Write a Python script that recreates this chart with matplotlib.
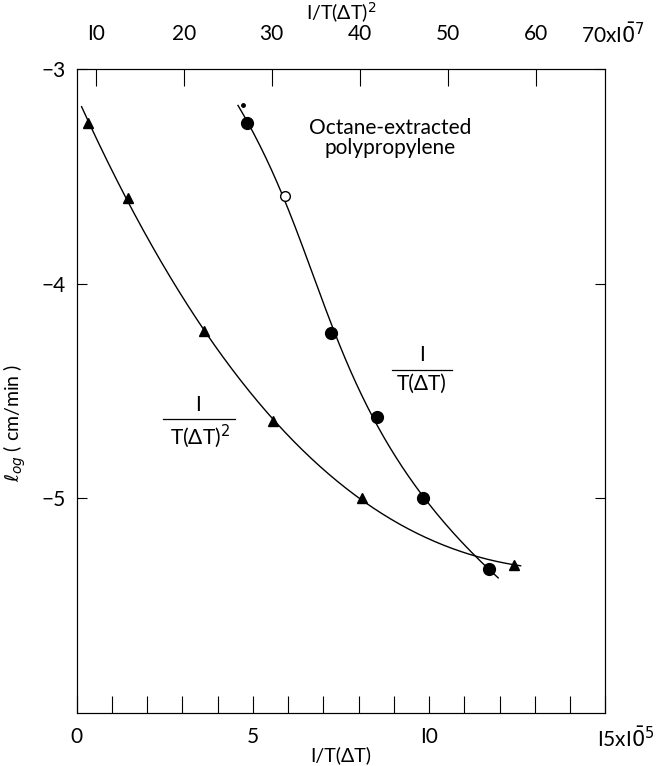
import numpy as np
import matplotlib.pyplot as plt

plt.rcParams['font.family'] = ['Lato', 'DejaVu Sans']

# growth rate vs 1/T(dT): circles, bottom axis (x 1e-5)
inv_t_dt = [4.83, 5.91, 7.2, 8.52, 9.82, 11.7]
log_rate_c = [-3.25, -3.59, -4.23, -4.62, -5.0, -5.33]
open_idx = [1]

# growth rate vs 1/T(dT)^2: triangles, top axis (x 1e-7)
inv_t_dt2 = [9.1, 13.7, 22.3, 30.1, 40.3, 57.5]
log_rate_t = [-3.25, -3.6, -4.22, -4.64, -5.0, -5.31]

fig = plt.figure(figsize=(6.61, 7.66), dpi=100)
ax = fig.add_axes([0.116, 0.069, 0.8, 0.841])
ax.set_xlim(0, 15)
ax.set_ylim(-6, -3)

# smooth curves through the points
cy = np.linspace(-3.17, -5.37, 200)
cfit = np.polyfit(log_rate_c, inv_t_dt, 3)
ax.plot(np.polyval(cfit, cy), cy, color='black', lw=1.0)
filled = [i for i in range(len(inv_t_dt)) if i not in open_idx]
ax.plot([inv_t_dt[i] for i in filled], [log_rate_c[i] for i in filled], 'o',
        color='black', ms=8.5)
ax.plot([inv_t_dt[i] for i in open_idx], [log_rate_c[i] for i in open_idx], 'o',
        mfc='white', mec='black', ms=7, mew=1)
ax.plot(inv_t_dt[0] - 0.12, -3.17, 'o', color='black', ms=2.5)

ax2 = ax.twiny()
ax2.set_xlim(7.84, 67.95)
tx = np.linspace(8.4, 58.3, 200)
tfit = np.polyfit(inv_t_dt2, log_rate_t, 3)
ax2.plot(tx, np.polyval(tfit, tx), color='black', lw=1.0)
ax2.plot(inv_t_dt2, log_rate_t, '^', color='black', ms=7)

for a in (ax, ax2):
    for s in a.spines.values():
        s.set_linewidth(0.8)

ax.set_xticks(range(0, 16))
ax.set_xticklabels(['0', '', '', '', '', '5', '', '', '', '', 'I0', '', '', '', '', ''])
ax.set_yticks([-3, -4, -5])
ax.set_yticklabels(['\u22123', '\u22124', '\u22125'])
ax.tick_params(axis='x', direction='in', length=12, width=0.8, labelsize=15, pad=10)
ax.tick_params(axis='y', direction='in', length=7, width=0.8, labelsize=15,
               right=True, pad=8)
ax.text(16.4, -6.116, r'I5xI$\bar{\mathrm{0}}^{5}$', fontsize=15, ha='right', va='center')
ax.set_xlabel('I/T(\u0394T)', fontsize=14)
ax.xaxis.set_label_coords(0.5, -0.052)
ax.set_ylabel(r'$\ell_{og}$ ( cm/min )', fontsize=14)
ax.yaxis.set_label_coords(-0.092, 0.45)

ax2.set_xticks([10, 20, 30, 40, 50, 60])
ax2.set_xticklabels(['I0', '20', '30', '40', '50', '60'])
ax2.tick_params(axis='x', direction='in', length=12, width=0.8, labelsize=15, pad=18)
ax2.text(68.8, -2.84, r'70xI$\bar{\mathrm{0}}^{7}$', fontsize=15, ha='center', va='center')
ax2.set_xlabel('I/T(\u0394T)$^2$', fontsize=14, labelpad=3)

ax.text(8.9, -3.32, 'Octane-extracted\npolypropylene', fontsize=15, ha='center',
        va='center', linespacing=1.0)
ax.text(9.79, -4.38, 'I', fontsize=15, ha='center', va='bottom')
ax.plot([8.94, 10.64], [-4.40, -4.40], color='black', lw=0.9)
ax.text(9.79, -4.42, 'T(\u0394T)', fontsize=15, ha='center', va='top')
ax.text(3.45, -4.61, 'I', fontsize=15, ha='center', va='bottom')
ax.plot([2.45, 4.49], [-4.63, -4.63], color='black', lw=0.9)
ax.text(3.5, -4.645, 'T(\u0394T)$^2$', fontsize=15, ha='center', va='top')

fig.savefig('out.png', dpi=100)
